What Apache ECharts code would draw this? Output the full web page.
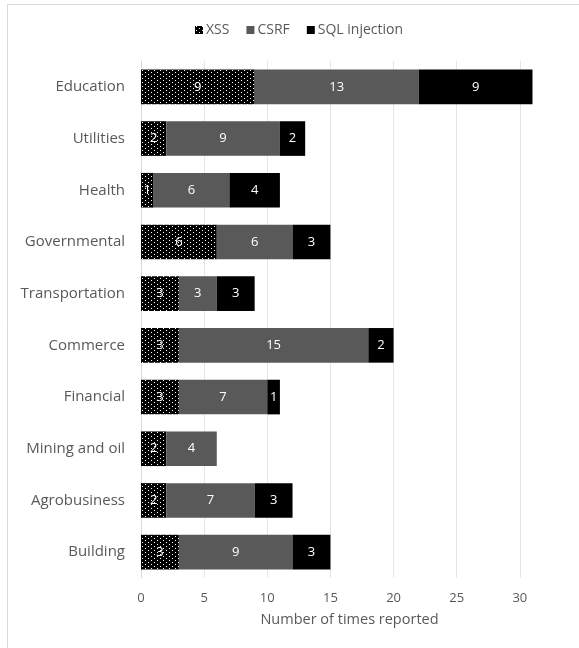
<!DOCTYPE html>
<html>
<head>
<meta charset="utf-8">
<style>
  html, body { margin: 0; padding: 0; background: #fff; }
  #chart { width: 579px; height: 648px; }
</style>
<script src="https://cdn.jsdelivr.net/npm/echarts@6/dist/echarts.min.js"></script>
</head>
<body>
<div id="chart"></div>
<script>
// Sectors, top to bottom
const sectors = ['Education', 'Utilities', 'Health', 'Governmental', 'Transportation',
                 'Commerce', 'Financial', 'Mining and oil', 'Agrobusiness', 'Building'];
// Reports per attack type for each sector
const xss  = [9, 2, 1, 6, 3, 3, 3, 2, 2, 3];
const csrf = [13, 9, 6, 6, 3, 15, 7, 4, 7, 9];
const sqli = [9, 2, 4, 3, 3, 2, 1, 0, 3, 3];
const xTicks = [0, 5, 10, 15, 20, 25, 30];
const xMax = 35;

// Dotted fill: black ground with small white dots
function dotPattern() {
  const c = document.createElement('canvas');
  c.width = 6; c.height = 4;
  const g = c.getContext('2d');
  g.fillStyle = '#000';
  g.fillRect(0, 0, 6, 4);
  g.fillStyle = '#fff';
  g.fillRect(1, 0, 1, 1);
  g.fillRect(4, 2, 1, 1);
  return { image: c, repeat: 'repeat' };
}
const dots = dotPattern();

const font = 'Open Sans, Noto Sans, sans-serif';
const labelStyle = {
  show: true,
  position: 'inside',
  color: '#fff',
  fontFamily: font,
  fontSize: 13,
  formatter: p => (p.value ? String(p.value) : '')
};

function series(name, data, color) {
  return {
    name: name,
    type: 'bar',
    stack: 'total',
    barWidth: '67%',
    data: data,
    itemStyle: { color: color },
    label: labelStyle,
    emphasis: { disabled: true }
  };
}

const chart = echarts.init(document.getElementById('chart'), null, { renderer: 'canvas' });
chart.setOption({
  animation: false,
  backgroundColor: '#fff',
  graphic: [{
    type: 'rect',
    shape: { x: 7.5, y: 4.5, width: 700, height: 800 },
    style: { fill: 'none', stroke: '#d9d9d9', lineWidth: 1 },
    silent: true,
    z: -10
  }],
  legend: {
    top: 18,
    left: 190,
    itemWidth: 8,
    itemHeight: 8,
    itemGap: 17,
    icon: 'rect',
    textStyle: { color: '#595959', fontFamily: font, fontSize: 14, padding: [0, 0, 0, -2] },
    data: ['XSS', 'CSRF', 'SQL injection']
  },
  // The plot area runs slightly past the right edge of the frame
  grid: { left: 141, right: -4, top: 61, bottom: 70, outerBoundsMode: 'none', containLabel: false },
  xAxis: {
    type: 'value',
    min: 0,
    max: xMax,
    interval: 5,
    name: 'Number of times reported',
    nameLocation: 'middle',
    nameGap: 34,
    nameTextStyle: { color: '#595959', fontFamily: font, fontSize: 14.5, padding: [0, 25, 0, 0] },
    axisLine: { show: false },
    axisTick: { show: false },
    axisLabel: {
      color: '#595959', fontFamily: font, fontSize: 13, margin: 14,
      formatter: v => (xTicks.indexOf(v) >= 0 ? String(v) : '')
    },
    splitLine: { show: true, lineStyle: { color: '#e6e6e6', width: 1 } }
  },
  yAxis: {
    type: 'category',
    inverse: true,
    data: sectors,
    axisLine: { show: true, lineStyle: { color: '#d9d9d9' } },
    axisTick: { show: false },
    axisLabel: { color: '#595959', fontFamily: font, fontSize: 15, margin: 16 }
  },
  series: [
    series('XSS', xss, dots),
    series('CSRF', csrf, '#595959'),
    series('SQL injection', sqli, '#000')
  ]
});
</script>
</body>
</html>
